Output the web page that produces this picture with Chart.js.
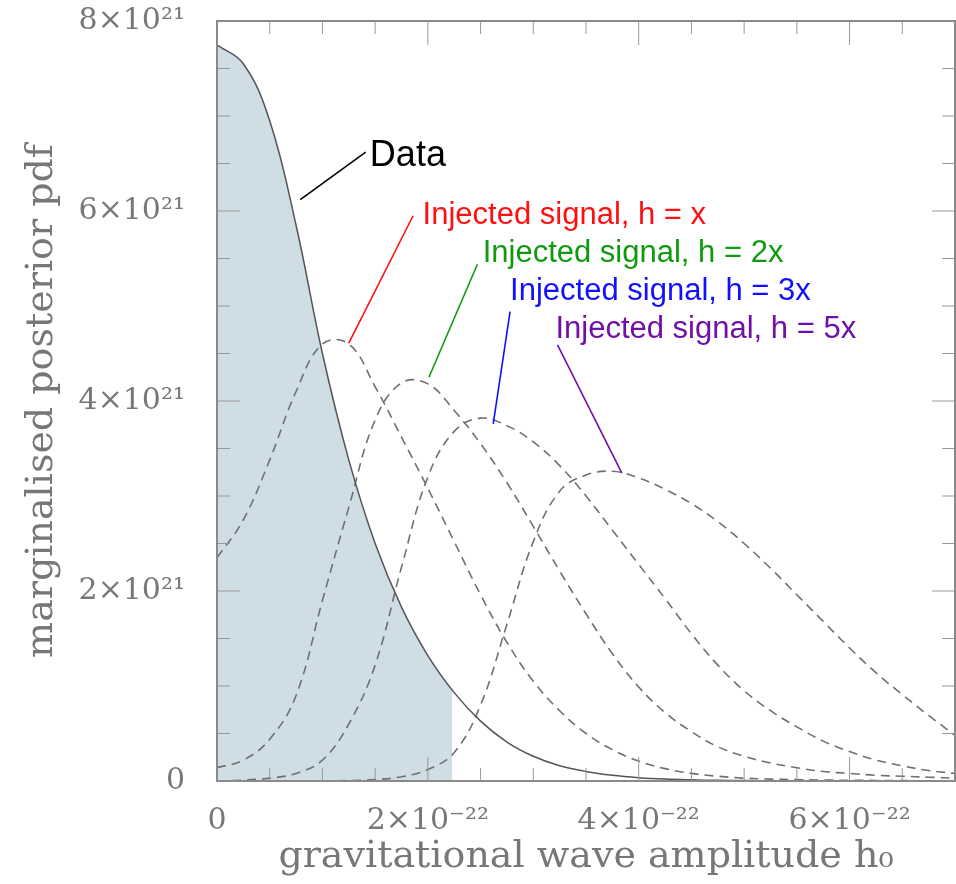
<!DOCTYPE html>
<html>
<head>
<meta charset="utf-8">
<title>Marginalised posterior pdf</title>
<script src="https://cdn.jsdelivr.net/npm/chart.js@4/dist/chart.umd.min.js"></script>
<style>
  html, body { margin: 0; padding: 0; background: #fff; }
</style>
</head>
<body>
<canvas id="chart-area" width="956" height="884"></canvas>
<script>
// h0 in units of 1e-22, pdf in units of 1e21
var hGrid = [0, 0.25, 0.5, 0.75, 1, 1.25, 1.5, 1.75, 2, 2.25, 2.5, 2.75, 3, 3.25, 3.5,
             3.75, 4, 4.25, 4.5, 4.75, 5, 5.25, 5.5, 5.75, 6, 6.25, 6.5, 6.75, 7];

var pData = [7.75, 7.55, 6.95, 5.85, 4.5, 3.38, 2.5, 1.83, 1.32, 0.93, 0.63, 0.41, 0.26, 0.16, 0.1,
             0.06, 0.035, 0.02, 0.012, 0.007, 0.004, 0.002, 0.001, 0, 0, 0, 0, 0, 0];

// shaded 95% region of the data curve
var hShade = [0, 0.25, 0.5, 0.75, 1, 1.25, 1.5, 1.75, 2, 2.23];
var pShade = [7.75, 7.55, 6.95, 5.85, 4.5, 3.38, 2.5, 1.83, 1.32, 0.95];

var pInj1 = [2.35, 2.75, 3.38, 4.1, 4.6, 4.6, 4.15, 3.62, 3.08, 2.52, 1.96, 1.46, 1.05, 0.74, 0.5,
             0.33, 0.21, 0.13, 0.08, 0.05, 0.03, 0.02, 0.015, 0.01, 0.008, 0.006, 0.004, 0.002, 0];
var pInj2 = [0.14, 0.22, 0.44, 0.9, 1.9, 2.88, 3.8, 4.19, 4.18, 3.9, 3.55, 3.14, 2.68, 2.21, 1.76,
             1.34, 0.99, 0.72, 0.52, 0.36, 0.26, 0.19, 0.14, 0.1, 0.08, 0.06, 0.05, 0.04, 0.03];
var pInj3 = [0, 0.01, 0.03, 0.08, 0.22, 0.6, 1.22, 2.25, 3.2, 3.68, 3.82, 3.74, 3.57, 3.32, 3.0,
             2.64, 2.28, 1.92, 1.55, 1.22, 0.95, 0.74, 0.57, 0.42, 0.31, 0.22, 0.16, 0.11, 0.08];
var pInj5 = [0, 0, 0, 0, 0.002, 0.005, 0.015, 0.045, 0.12, 0.3, 0.8, 1.65, 2.52, 3.05, 3.22,
             3.26, 3.19, 3.07, 2.92, 2.73, 2.5, 2.24, 1.96, 1.68, 1.4, 1.14, 0.91, 0.69, 0.48];

var xTickLabels = { 0: '0', 2: '2×10⁻²²', 4: '4×10⁻²²', 6: '6×10⁻²²' };
var yTickLabels = { 0: '0', 2: '2×10²¹', 4: '4×10²¹', 6: '6×10²¹', 8: '8×10²¹' };

// annotations (text baseline-left and leader line ends, in data units)
var noteText = ['Data', 'Injected signal, h = x', 'Injected signal, h = 2x',
                'Injected signal, h = 3x', 'Injected signal, h = 5x'];
var noteColor = ['#000000', '#ff1010', '#109a10', '#1010ff', '#7010a8'];
var noteAt = [[1.45, 6.47], [1.95, 5.86], [2.52, 5.46], [2.78, 5.06], [3.21, 4.66]];
var leaderFrom = [[1.41, 6.62], [1.86, 5.95], [2.47, 5.44], [2.78, 4.94], [3.23, 4.59]];
var leaderTo = [[0.79, 6.12], [1.25, 4.61], [2.01, 4.25], [2.62, 3.76], [3.84, 3.24]];

function pts(xs, ys) {
    return xs.map(function (x, i) { return { x: x, y: ys[i] }; });
}

var dashed = {
    borderColor: '#707070',
    borderWidth: 1.6,
    borderDash: [9, 6],
    pointRadius: 0,
    fill: false,
    tension: 0.4
};

var frameTicks = {
    id: 'frameTicks',
    afterDatasetsDraw: function (chart) {
        var ctx = chart.ctx, a = chart.chartArea;
        var xs = chart.scales.x, ys = chart.scales.y;
        ctx.save();
        ctx.strokeStyle = '#999';
        ctx.lineWidth = 1;
        xs.ticks.forEach(function (t) {
            var px = xs.getPixelForValue(t.value);
            var len = (t.value % 2 === 0) ? 24 : 13;
            ctx.beginPath();
            ctx.moveTo(px, a.bottom); ctx.lineTo(px, a.bottom - len);
            ctx.moveTo(px, a.top); ctx.lineTo(px, a.top + len);
            ctx.stroke();
        });
        ys.ticks.forEach(function (t) {
            var py = ys.getPixelForValue(t.value);
            var len = (t.value % 2 === 0) ? 23 : 13;
            ctx.beginPath();
            ctx.moveTo(a.left, py); ctx.lineTo(a.left + len, py);
            ctx.moveTo(a.right, py); ctx.lineTo(a.right - len, py);
            ctx.stroke();
        });
        ctx.strokeStyle = '#8a8a8a';
        ctx.lineWidth = 2;
        ctx.strokeRect(a.left, a.top, a.right - a.left, a.bottom - a.top);

        // annotations
        ctx.lineWidth = 1.6;
        noteText.forEach(function (txt, i) {
            ctx.strokeStyle = noteColor[i];
            ctx.beginPath();
            ctx.moveTo(xs.getPixelForValue(leaderFrom[i][0]), ys.getPixelForValue(leaderFrom[i][1]));
            ctx.lineTo(xs.getPixelForValue(leaderTo[i][0]), ys.getPixelForValue(leaderTo[i][1]));
            ctx.stroke();
            ctx.fillStyle = noteColor[i];
            ctx.font = (i === 0 ? '36px' : '31px') + ' "Liberation Sans", Arial, sans-serif';
            ctx.textAlign = 'left';
            ctx.textBaseline = 'alphabetic';
            ctx.fillText(txt, xs.getPixelForValue(noteAt[i][0]), ys.getPixelForValue(noteAt[i][1]));
        });
        ctx.restore();
    }
};

var serif = { family: '"DejaVu Serif", serif', size: 30 };

new Chart(document.getElementById('chart-area').getContext('2d'), {
    type: 'line',
    data: {
        datasets: [
            { label: 'Data', data: pts(hGrid, pData), borderColor: '#555', borderWidth: 1.5,
              pointRadius: 0, fill: false, tension: 0.4, order: 1 },
            Object.assign({ label: 'h = x', data: pts(hGrid, pInj1), order: 2 }, dashed),
            Object.assign({ label: 'h = 2x', data: pts(hGrid, pInj2), order: 2 }, dashed),
            Object.assign({ label: 'h = 3x', data: pts(hGrid, pInj3), order: 2 }, dashed),
            Object.assign({ label: 'h = 5x', data: pts(hGrid, pInj5), order: 2 }, dashed),
            { label: '95%', data: pts(hShade, pShade), borderWidth: 0, borderColor: 'rgba(0,0,0,0)',
              backgroundColor: 'rgb(207,221,229)', pointRadius: 0, fill: 'origin',
              tension: 0.4, order: 10 }
        ]
    },
    options: {
        responsive: false,
        animation: false,
        layout: { padding: { top: 21, right: 1, left: 0, bottom: 0 } },
        plugins: { legend: { display: false }, tooltip: { enabled: false } },
        scales: {
            x: {
                type: 'linear', min: 0, max: 7,
                grid: { display: false },
                border: { display: false },
                ticks: {
                    stepSize: 0.5, autoSkip: false, maxRotation: 0, padding: 14,
                    color: '#777', font: serif,
                    callback: function (v) { return xTickLabels[v] || ''; }
                },
                title: { display: true, text: 'gravitational wave amplitude h₀', color: '#777',
                         font: { family: '"DejaVu Serif", serif', size: 38 },
                         padding: { top: 0, bottom: 4 } },
                afterFit: function (s) { s.height = 103; s.paddingLeft = 0; s.paddingRight = 0; }
            },
            y: {
                min: 0, max: 8,
                grid: { display: false },
                border: { display: false },
                ticks: {
                    stepSize: 0.5, autoSkip: false, padding: 24,
                    color: '#777', font: serif,
                    callback: function (v) { return yTickLabels[v] || ''; }
                },
                title: { display: true, text: 'marginalised posterior pdf', color: '#777',
                         font: { family: '"DejaVu Serif", serif', size: 38 },
                         padding: { top: 19, bottom: 0 } },
                afterFit: function (s) { s.width = 217; s.paddingTop = 0; s.paddingBottom = 0; }
            }
        }
    },
    plugins: [frameTicks]
});
</script>
</body>
</html>
